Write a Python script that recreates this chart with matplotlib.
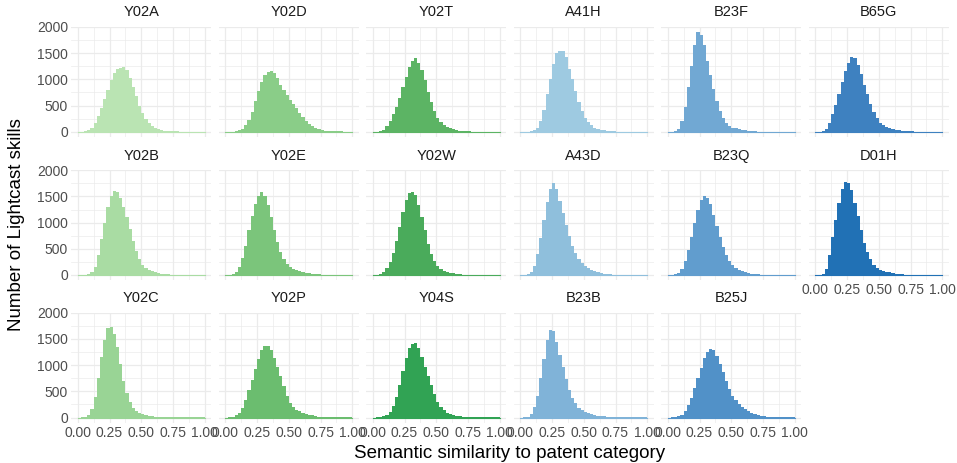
import matplotlib
matplotlib.use("Agg")
import matplotlib.pyplot as plt
import numpy as np

plt.rcParams['font.family'] = ['Liberation Sans', 'DejaVu Sans']

# bin edges of the histograms (40 bins of width 0.025)
edges = np.linspace(0, 1, 41)

# panel order (facet_wrap, filled column by column, 3 rows)
categories = ["Y02A", "Y02B", "Y02C", "Y02D", "Y02E", "Y02P", "Y02T", "Y02W", "Y04S",
              "A41H", "A43D", "B23B", "B23F", "B23Q", "B25J", "B65G", "D01H"]

colors = ["#BAE4B3", "#A9DCA3", "#99D495", "#8ACD88", "#7BC57B", "#6BBD6F", "#5CB464", "#4AAB5B", "#31A354",
          "#9ECAE1", "#8FBFDC", "#80B3D8", "#71A8D3", "#619DCE", "#5191C8", "#3E81C0", "#2171B5"]

# counts per bin
y02a = [0, 2, 10, 30, 80, 170, 300, 460, 620, 800, 980, 1130, 1190, 1220, 1230, 1170, 1030, 850, 680, 500,
        350, 240, 160, 100, 70, 50, 35, 20, 12, 8, 5, 4, 3, 3, 2, 2, 2, 1, 1, 1]
y02b = [0, 0, 2, 10, 50, 160, 380, 680, 1000, 1300, 1500, 1600, 1590, 1480, 1300, 1100, 880, 650, 460, 300,
        200, 140, 100, 75, 55, 38, 25, 15, 10, 6, 4, 3, 2, 2, 1, 1, 1, 1, 1, 1]
y02c = [0, 2, 10, 40, 160, 400, 750, 1150, 1480, 1700, 1720, 1600, 1350, 1020, 700, 460, 290, 180, 120, 80,
        60, 45, 35, 25, 18, 12, 8, 6, 5, 4, 3, 3, 2, 2, 2, 3, 2, 2, 2, 2]
y02d = [0, 0, 3, 8, 25, 60, 120, 220, 380, 580, 780, 950, 1080, 1140, 1160, 1120, 1020, 900, 790, 700,
        610, 530, 450, 360, 280, 210, 150, 115, 80, 55, 35, 22, 15, 10, 7, 5, 4, 3, 2, 2]
y02e = [0, 3, 15, 60, 160, 330, 560, 850, 1120, 1350, 1500, 1580, 1500, 1330, 1100, 850, 630, 440, 300, 210,
        150, 115, 90, 70, 55, 45, 32, 22, 15, 10, 7, 5, 4, 3, 3, 2, 2, 2, 1, 1]
y02p = [0, 3, 12, 40, 90, 190, 330, 520, 720, 920, 1120, 1290, 1370, 1360, 1280, 1140, 960, 790, 600, 420,
        280, 200, 150, 115, 90, 70, 55, 40, 28, 18, 12, 8, 5, 4, 3, 3, 2, 2, 2, 2]
y02t = [0, 2, 10, 40, 110, 200, 330, 480, 650, 850, 1050, 1230, 1350, 1400, 1320, 1180, 980, 760, 560, 390,
        260, 180, 130, 90, 65, 45, 30, 18, 10, 6, 4, 3, 2, 2, 1, 1, 1, 1, 1, 1]
y02w = [0, 3, 12, 50, 130, 250, 420, 650, 920, 1200, 1430, 1560, 1580, 1520, 1330, 1100, 850, 600, 400, 260,
        170, 120, 85, 60, 42, 30, 20, 12, 8, 5, 4, 3, 2, 1, 1, 1, 1, 1, 1, 1]
y04s = [0, 2, 5, 20, 50, 110, 220, 400, 620, 880, 1130, 1320, 1410, 1420, 1330, 1150, 960, 800, 620, 440,
        300, 200, 140, 95, 65, 45, 30, 20, 14, 10, 7, 5, 4, 3, 3, 3, 2, 2, 2, 2]
a41h = [0, 0, 2, 5, 25, 80, 200, 420, 720, 1000, 1300, 1500, 1540, 1550, 1420, 1200, 1000, 780, 570, 400,
        270, 180, 120, 80, 55, 38, 25, 15, 8, 5, 3, 2, 2, 1, 1, 1, 1, 1, 1, 1]
a43d = [0, 2, 12, 60, 180, 400, 700, 1050, 1400, 1650, 1760, 1640, 1420, 1180, 950, 740, 560, 420, 310, 230,
        170, 125, 95, 70, 52, 38, 27, 18, 12, 7, 4, 3, 2, 1, 1, 1, 1, 1, 1, 1]
b23b = [0, 2, 12, 70, 200, 420, 750, 1120, 1480, 1680, 1650, 1450, 1200, 960, 730, 530, 380, 270, 190, 140,
        105, 85, 65, 50, 38, 28, 20, 14, 10, 7, 5, 4, 3, 3, 2, 2, 2, 2, 2, 2]
b23f = [0, 2, 15, 60, 200, 480, 850, 1250, 1650, 1910, 1850, 1650, 1350, 1080, 820, 580, 400, 260, 170, 110,
        80, 65, 45, 35, 25, 15, 8, 5, 3, 2, 2, 1, 1, 1, 1, 1, 1, 1, 1, 1]
b23q = [0, 2, 10, 40, 120, 260, 470, 720, 1000, 1250, 1430, 1500, 1480, 1350, 1150, 930, 720, 530, 380, 270,
        190, 140, 100, 75, 55, 40, 28, 18, 12, 8, 5, 3, 2, 1, 1, 1, 1, 1, 1, 1]
b25j = [0, 2, 6, 20, 50, 120, 230, 380, 560, 750, 950, 1130, 1250, 1300, 1280, 1180, 1020, 860, 690, 540,
        420, 330, 260, 200, 155, 120, 90, 68, 50, 35, 22, 14, 9, 6, 4, 3, 3, 2, 2, 2]
b65g = [0, 3, 15, 50, 160, 330, 510, 720, 940, 1150, 1320, 1420, 1400, 1280, 1100, 900, 720, 530, 380, 260,
        170, 120, 90, 70, 50, 35, 25, 18, 12, 8, 5, 3, 2, 1, 1, 1, 1, 1, 1, 1]
d01h = [0, 3, 25, 120, 380, 720, 1050, 1380, 1640, 1780, 1760, 1620, 1380, 1120, 850, 620, 440, 300, 200, 140,
        100, 80, 65, 50, 38, 28, 18, 12, 8, 5, 3, 2, 1, 1, 1, 1, 1, 1, 1, 1]

counts = [y02a, y02b, y02c, y02d, y02e, y02p, y02t, y02w, y04s,
          a41h, a43d, b23b, b23f, b23q, b25j, b65g, d01h]

xticks = [0, 0.25, 0.5, 0.75, 1.0]
xticklabels = ["0.00", "0.25", "0.50", "0.75", "1.00"]
yticks = [0, 500, 1000, 1500, 2000]

W, H = 957, 463
fig = plt.figure(figsize=(W / 100, H / 100), dpi=100)

nrow, ncol = 3, 6
left0, colstep, pw = 71.4, 147.5, 139.7
bottoms = [136.7, 280.0, 422.5]
ph = 110.0

ymax = max(max(c) for c in counts)
grid_c = "#EBEBEB"

for k, (name, col, cnt) in enumerate(zip(categories, colors, counts)):
    c, r = k // nrow, k % nrow
    ax = fig.add_axes([(left0 + c * colstep) / W, 1 - bottoms[r] / H, pw / W, ph / H])
    ax.set_xlim(-0.05, 1.05)
    ax.set_ylim(-0.05 * ymax, 1.05 * ymax)
    ax.set_xticks(xticks)
    ax.set_xticks([0.125, 0.375, 0.625, 0.875], minor=True)
    ax.set_yticks(yticks)
    ax.set_yticks([250, 750, 1250, 1750], minor=True)
    ax.grid(True, which="major", color=grid_c, lw=0.9)
    ax.grid(True, which="minor", color=grid_c, lw=0.5)
    ax.set_axisbelow(True)
    for s in ax.spines.values():
        s.set_visible(False)
    ax.tick_params(which="both", length=0, labelsize=10, labelcolor="#4D4D4D", pad=2.5)

    ax.stairs(cnt, edges, fill=True, color=col, zorder=2)
    ax.plot([0, 1], [0, 0], color=col, lw=0.8, zorder=2)

    # y labels only on first column, x labels on last panel of each column
    if c == 0:
        ax.set_yticklabels([str(v) for v in yticks])
    else:
        ax.set_yticklabels([])
    last_in_col = (r == nrow - 1) or (k == len(categories) - 1)
    if last_in_col:
        ax.set_xticklabels(xticklabels)
    else:
        ax.set_xticklabels([])

    ax.text(0.5, 1.13, name, transform=ax.transAxes, ha="center", va="center",
            fontsize=10.5, color="#1A1A1A")

fig.text(510 / W, 1 - 453 / H, "Semantic similarity to patent category",
         ha="center", va="center", fontsize=13.5)
fig.text(17 / W, 1 - 224.6 / H, "Number of Lightcast skills",
         ha="center", va="center", rotation=90, fontsize=13.5)

fig.savefig("out.png", dpi=100)
